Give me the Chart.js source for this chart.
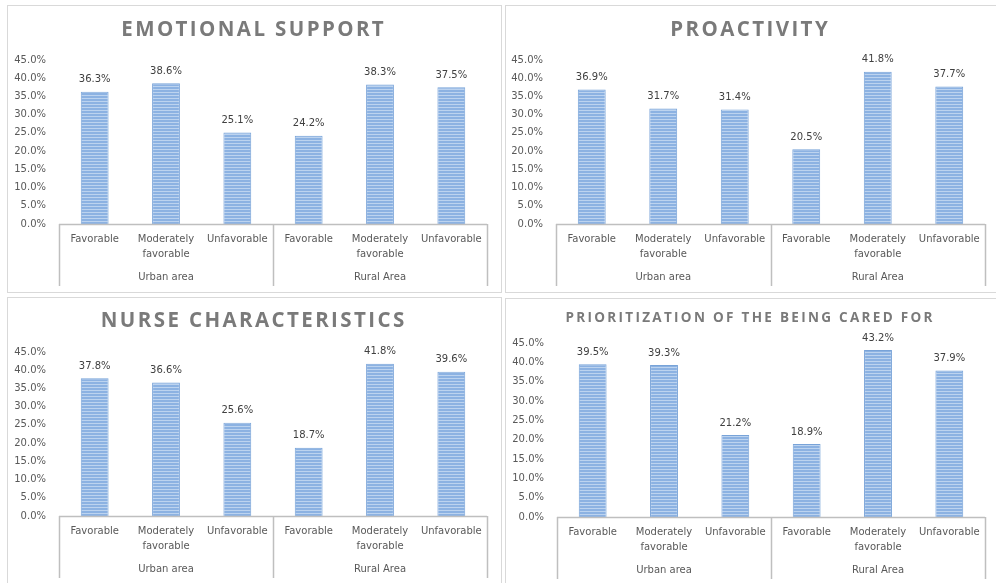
<!DOCTYPE html>
<html>
<head>
<meta charset="utf-8">
<script src="https://cdn.jsdelivr.net/npm/chart.js@4/dist/chart.umd.min.js"></script>
<style>
  html, body { margin: 0; padding: 0; background: #ffffff; }
  body { width: 996px; height: 583px; position: relative; overflow: hidden; }
  .panel { position: absolute; border: 1px solid #d9d9d9; background: #fff; }
  .panel canvas { display: block; }
</style>
</head>
<body>
<div class="panel" id="p1"><canvas id="c1"></canvas></div>
<div class="panel" id="p2"><canvas id="c2"></canvas></div>
<div class="panel" id="p3"><canvas id="c3"></canvas></div>
<div class="panel" id="p4"><canvas id="c4"></canvas></div>
<script>
// ---------------- data ----------------
const groups = ['Urban area', 'Rural Area'];
const levels = [['Favorable'], ['Moderately', 'favorable'], ['Unfavorable']];
const titles = ['EMOTIONAL SUPPORT', 'PROACTIVITY', 'NURSE CHARACTERISTICS', 'PRIORITIZATION OF THE BEING CARED FOR'];
const emotionalSupport     = [36.3, 38.6, 25.1, 24.2, 38.3, 37.5];
const proactivity          = [36.9, 31.7, 31.4, 20.5, 41.8, 37.7];
const nurseCharacteristics = [37.8, 36.6, 25.6, 18.7, 41.8, 39.6];
const prioritization       = [39.5, 39.3, 21.2, 18.9, 43.2, 37.9];
const yMax = 45;
const yStep = 5;

// ---------------- layout / style ----------------
const categoryLabels = groups.flatMap(() => levels);
const seriesList = [emotionalSupport, proactivity, nurseCharacteristics, prioritization];
const panels = [
  { left: 7,   top: 5,   w: 495, h: 288, cw: 493, ch: 286, yW: 51, padTop: 54, padRight: 14, titleY: 24, titleSize: 20.5, spacing: 2.4 },
  { left: 505, top: 5,   w: 492, h: 288, cw: 490, ch: 286, yW: 50, padTop: 54, padRight: 11, titleY: 24, titleSize: 20.5, spacing: 2.4 },
  { left: 7,   top: 297, w: 495, h: 288, cw: 493, ch: 286, yW: 51, padTop: 54, padRight: 14, titleY: 23, titleSize: 20.5, spacing: 2.4 },
  { left: 505, top: 298, w: 492, h: 288, cw: 490, ch: 286, yW: 51, padTop: 44, padRight: 11, titleY: 19, titleSize: 13.5, spacing: 2.3 }
];
const FONT = "'DejaVu Sans', sans-serif";
const axisGrey = '#bfbfbf';

function stripePattern() {
  const pc = document.createElement('canvas');
  pc.width = 4; pc.height = 3;
  const g = pc.getContext('2d');
  g.fillStyle = '#8cb2e2'; g.fillRect(0, 0, 4, 2);
  g.fillStyle = '#bcd3ef'; g.fillRect(0, 2, 4, 1);
  return g.createPattern(pc, 'repeat');
}

const decorPlugin = {
  id: 'decor',
  afterDraw(chart, args, opts) {
    const ctx = chart.ctx;
    const x = chart.scales.x;
    const area = chart.chartArea;
    const n = chart.data.labels.length;
    const per = n / groups.length;
    // title
    ctx.save();
    ctx.font = 'bold ' + opts.titleSize + "px 'Open Sans', sans-serif";
    ctx.fillStyle = '#7a7a7a';
    ctx.letterSpacing = opts.spacing + 'px';
    ctx.textAlign = 'center';
    ctx.textBaseline = 'middle';
    ctx.fillText(opts.title, chart.width / 2 + opts.spacing / 2 - 2, opts.titleY);
    ctx.restore();
    // axis lines
    ctx.save();
    ctx.strokeStyle = axisGrey;
    ctx.lineWidth = 1.5;
    ctx.beginPath();
    ctx.moveTo(area.left, area.bottom + 0.5);
    ctx.lineTo(area.right, area.bottom + 0.5);
    for (let g = 0; g <= groups.length; g++) {
      const px = Math.round(x.getPixelForValue(g * per - 0.5)) + 0.5;
      ctx.moveTo(px, area.bottom);
      ctx.lineTo(px, area.bottom + 62);
    }
    ctx.stroke();
    // group labels
    ctx.font = '10px ' + FONT;
    ctx.fillStyle = '#595959';
    ctx.textAlign = 'center';
    ctx.textBaseline = 'middle';
    groups.forEach((gname, g) => {
      const cx = x.getPixelForValue(g * per + (per - 1) / 2);
      ctx.fillText(gname, cx, area.bottom + 53);
    });
    // data labels
    ctx.fillStyle = '#404040';
    ctx.textBaseline = 'bottom';
    const meta = chart.getDatasetMeta(0);
    meta.data.forEach((bar, i) => {
      const v = chart.data.datasets[0].data[i];
      ctx.fillText(v.toFixed(1) + '%', bar.x, bar.y - 7);
    });
    ctx.restore();
  }
};

panels.forEach((p, idx) => {
  const div = document.getElementById('p' + (idx + 1));
  div.style.left = p.left + 'px';
  div.style.top = p.top + 'px';
  div.style.width = (p.w - 2) + 'px';
  div.style.height = (p.h - 2) + 'px';
  const cv = document.getElementById('c' + (idx + 1));
  cv.width = p.cw; cv.height = p.ch;
  cv.style.width = p.cw + 'px'; cv.style.height = p.ch + 'px';

  new Chart(cv, {
    type: 'bar',
    data: {
      labels: categoryLabels,
      datasets: [{
        data: seriesList[idx],
        backgroundColor: stripePattern(),
        borderColor: '#78a3d8',
        borderWidth: 1,
        barPercentage: 0.39,
        categoryPercentage: 1
      }]
    },
    options: {
      responsive: false,
      animation: false,
      devicePixelRatio: 1,
      layout: { padding: { top: p.padTop, right: p.padRight, left: 0, bottom: 0 } },
      plugins: {
        legend: { display: false },
        tooltip: { enabled: false },
        title: { display: false },
        decor: { title: titles[idx], titleY: p.titleY, titleSize: p.titleSize, spacing: p.spacing }
      },
      scales: {
        x: {
          type: 'category',
          offset: true,
          grid: { display: false, drawTicks: false },
          border: { display: false },
          ticks: {
            autoSkip: false, maxRotation: 0, minRotation: 0, padding: 8,
            color: '#595959',
            font: { family: FONT, size: 10, lineHeight: 1.5 }
          },
          afterFit(scale) { scale.height = 68; }
        },
        y: {
          min: 0, max: yMax,
          grid: { display: false, drawTicks: false },
          border: { display: false },
          ticks: {
            stepSize: yStep, padding: 13,
            color: '#595959',
            font: { family: FONT, size: 10 },
            callback: (v) => Number(v).toFixed(1) + '%'
          },
          afterFit(scale) { scale.width = p.yW; }
        }
      }
    },
    plugins: [decorPlugin]
  });
});
</script>
</body>
</html>
